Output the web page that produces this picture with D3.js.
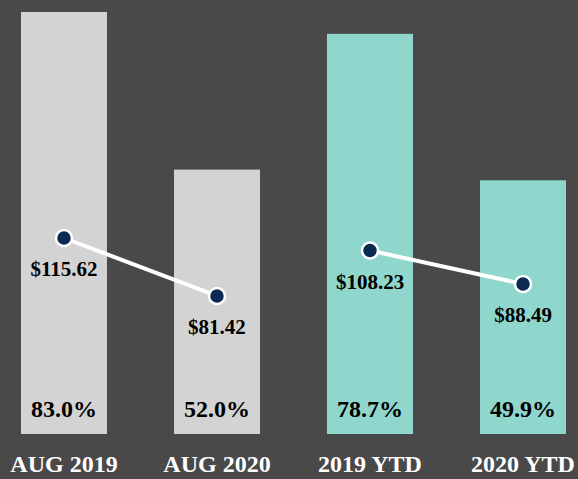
<!DOCTYPE html>
<html lang="en">
<head>
  <meta charset="utf-8">
  <title>Monthly vs YTD</title>
  <script type="text/javascript" src="https://cdn.jsdelivr.net/npm/d3@7"></script>
  <style>
    body { margin: 0; background: #494949; }
    svg { display: block; font-family: "Liberation Serif", "DejaVu Serif", serif; font-weight: bold; }
    .cat text { fill: #fff; font-size: 24px; font-family: "Liberation Serif", serif; }
    .pct { fill: #000; font-size: 24px; }
    .dollar { fill: #000; font-size: 21px; }
    .link { fill: none; stroke: #fff; stroke-width: 4; }
    .dot { fill: #0b2a52; stroke: #fff; stroke-width: 2.5; }
  </style>
</head>
<body>
  <script type="text/javascript">
    // data
    var categories = ["AUG 2019", "AUG 2020", "2019 YTD", "2020 YTD"];
    var percents = [83.0, 52.0, 78.7, 49.9];
    var dollars = [115.62, 81.42, 108.23, 88.49];
    var barColors = ["#d3d3d3", "#d3d3d3", "#8fd6cc", "#8fd6cc"];
    // which points are joined by a line
    var pairs = [[0, 1], [2, 3]];

    var w = 578;
    var h = 479;
    var base = 434;

    var xScale = d3.scaleBand()
      .domain(categories)
      .range([21, 566])
      .paddingInner(0.438)
      .paddingOuter(0);

    var yScale = d3.scaleLinear()
      .domain([0, 83])
      .range([base, 12]);

    var y2Scale = d3.scaleLinear()
      .domain([0, 115.62])
      .range([base, 238]);

    var svg = d3.select("body")
      .append("svg")
      .attr("width", w)
      .attr("height", h);

    var cx = function (i) { return xScale(categories[i]) + xScale.bandwidth() / 2; };

    //bars
    svg.selectAll("rect")
      .data(percents)
      .enter()
      .append("rect")
      .attr("x", function (d, i) { return xScale(categories[i]); })
      .attr("y", function (d) { return yScale(d); })
      .attr("width", xScale.bandwidth())
      .attr("height", function (d) { return base - yScale(d); })
      .attr("fill", function (d, i) { return barColors[i]; });

    //percent labels at bottom of bars
    svg.selectAll("text.pct")
      .data(percents)
      .enter()
      .append("text")
      .attr("class", "pct")
      .attr("x", function (d, i) { return cx(i); })
      .attr("y", 417)
      .attr("text-anchor", "middle")
      .text(function (d) { return d.toFixed(1) + "%"; });

    //category axis
    var xAxis = d3.axisBottom(xScale).tickSize(0).tickPadding(0);
    var gx = svg.append("g")
      .attr("class", "cat")
      .attr("transform", "translate(0," + base + ")")
      .call(xAxis)
      .attr("font-family", null)
      .attr("font-size", null);
    gx.select(".domain").remove();
    gx.selectAll("text").attr("dy", null).attr("y", 38);

    //lines between pairs
    var line = d3.line()
      .x(function (i) { return cx(i); })
      .y(function (i) { return y2Scale(dollars[i]); });

    svg.selectAll("path.link")
      .data(pairs)
      .enter()
      .append("path")
      .attr("class", "link")
      .attr("d", line);

    svg.selectAll("circle")
      .data(dollars)
      .enter()
      .append("circle")
      .attr("class", "dot")
      .attr("cx", function (d, i) { return cx(i); })
      .attr("cy", function (d) { return y2Scale(d); })
      .attr("r", 8);

    svg.selectAll("text.dollar")
      .data(dollars)
      .enter()
      .append("text")
      .attr("class", "dollar")
      .attr("x", function (d, i) { return cx(i); })
      .attr("y", function (d) { return y2Scale(d) + 38; })
      .attr("text-anchor", "middle")
      .text(function (d) { return "$" + d.toFixed(2); });
  </script>
</body>
</html>
